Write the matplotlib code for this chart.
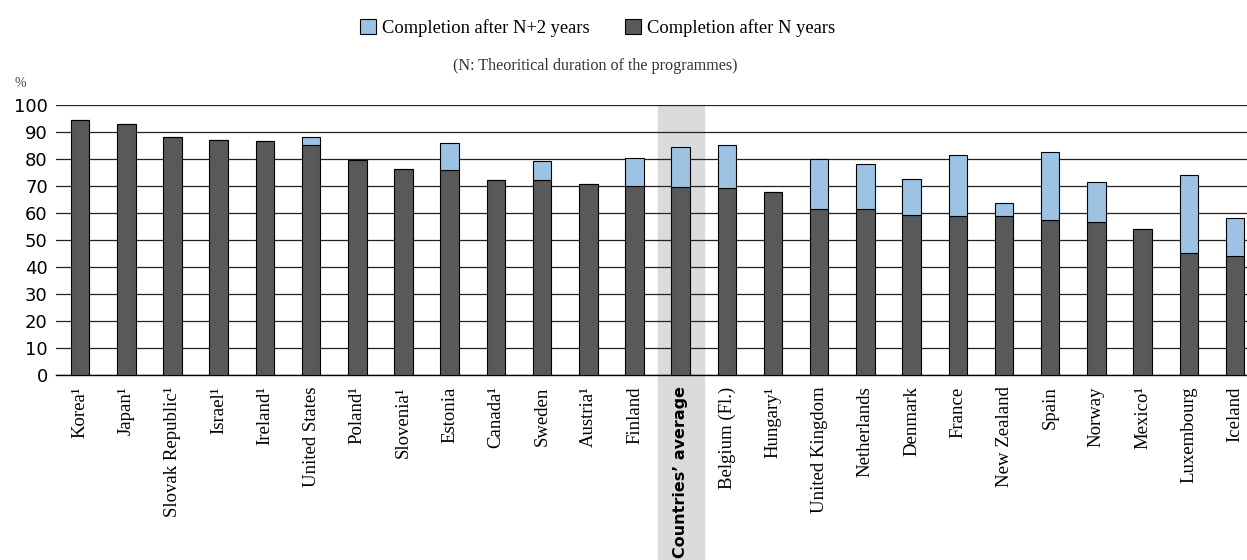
import numpy as np
import matplotlib
matplotlib.use("Agg")
import matplotlib.pyplot as plt
from matplotlib.patches import Patch

plt.rcParams["font.family"] = ["Liberation Serif", "DejaVu Serif"]

countries = ["Korea¹", "Japan¹", "Slovak Republic¹", "Israel¹", "Ireland¹", "United States",
             "Poland¹", "Slovenia¹", "Estonia", "Canada¹", "Sweden", "Austria¹", "Finland",
             "Countries’ average", "Belgium (Fl.)", "Hungary¹", "United Kingdom", "Netherlands",
             "Denmark", "France", "New Zealand", "Spain", "Norway", "Mexico¹", "Luxembourg", "Iceland"]
after_n = [94.5, 92.8, 88.1, 87.0, 86.7, 85.3, 79.7, 76.2, 76.0, 72.3, 72.2, 70.9, 69.9,
           69.7, 69.3, 67.8, 61.4, 61.4, 59.3, 58.9, 58.9, 57.4, 56.7, 54.0, 45.2, 44.2]
after_n2 = [None, None, None, None, None, 88.1, None, None, 86.1, None, 79.2, None, 80.3,
            84.5, 85.3, None, 80.1, 78.2, 72.5, 81.4, 63.8, 82.5, 71.6, None, 74.2, 58.3]
avg_label = "Countries’ average"

dark = "#58595b"
light = "#9cc3e4"

x = np.arange(len(countries))
extra = [0 if t is None else t - b for t, b in zip(after_n2, after_n)]

fig = plt.figure(figsize=(12.47, 5.6), dpi=100)
ax = fig.add_axes([0.045, 0.33, 0.955, 0.4825])

avg_i = countries.index(avg_label)
ax.axvspan(avg_i - 0.5, avg_i + 0.5, ymin=-0.7, ymax=1.0, color="#dadbdc", zorder=0, clip_on=False)

ax.set_axisbelow(True)
ax.yaxis.grid(True, color="#222222", linewidth=0.9)
ax.bar(x, after_n, width=0.4, color=dark, edgecolor="black", linewidth=0.8, zorder=3)
ax.bar(x, extra, width=0.4, bottom=after_n, color=light, edgecolor="black", linewidth=0.8, zorder=3)

ax.set_xlim(-0.52, len(countries) - 0.74)
ax.set_ylim(0, 100)
ax.set_yticks(range(0, 101, 10))
ax.tick_params(axis="y", length=0, labelsize=13, pad=6)
for lab in ax.get_yticklabels():
    lab.set_fontfamily(["DejaVu Sans"])
ax.set_xticks(x)
ax.set_xticklabels(countries, rotation=90, fontsize=13.5)
ax.tick_params(axis="x", length=0, pad=8)
for lab in ax.get_xticklabels():
    if lab.get_text() == avg_label:
        lab.set_fontfamily(["DejaVu Sans"])
        lab.set_fontweight("bold")
        lab.set_fontsize(11.5)

for s in ["left", "right", "top"]:
    ax.spines[s].set_visible(False)
ax.spines["bottom"].set_color("black")
ax.spines["bottom"].set_linewidth(1.0)

fig.text(0.012, 0.845, "%", fontsize=10, color="#444444")

handles = [Patch(facecolor=light, edgecolor="black", linewidth=0.8),
           Patch(facecolor=dark, edgecolor="black", linewidth=0.8)]
fig.legend(handles, ["Completion after N+2 years", "Completion after N years"],
           loc="center", bbox_to_anchor=(0.479, 0.95), ncol=2, frameon=False,
           fontsize=13.3, handlelength=0.9, handleheight=0.9, handletextpad=0.3,
           columnspacing=1.9)
fig.text(0.477, 0.882, "(N: Theoritical duration of the programmes)", ha="center", va="center",
         fontsize=11.6, color="#333333")

fig.savefig("out.png", dpi=100)
